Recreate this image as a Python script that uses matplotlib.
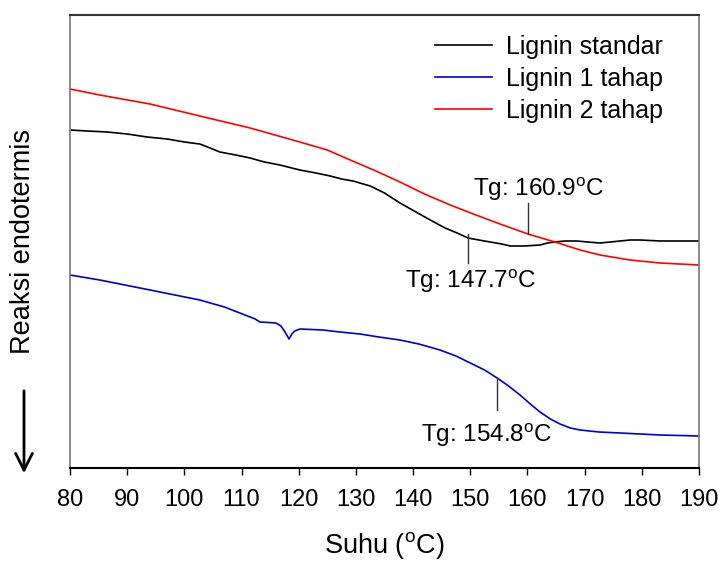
import matplotlib
matplotlib.use("Agg")
import matplotlib.pyplot as plt

plt.rcParams['font.family'] = ['Liberation Sans', 'DejaVu Sans']
plt.rcParams['mathtext.fontset'] = 'custom'
plt.rcParams['mathtext.rm'] = 'Liberation Sans'
plt.rcParams['mathtext.it'] = 'Liberation Sans:italic'

# Lignin standar (black)
t_std = [80.0, 83.0, 86.5, 90.0, 93.5, 97.0, 100.0, 102.7, 104.5, 106.2, 109.0, 111.5, 114.0,
         116.7, 120.2, 123.0, 125.5, 127.5, 129.5, 132.5, 135.0, 137.7, 140.5, 143.0, 145.6,
         147.7, 149.6, 151.5, 153.5, 155.5, 157.0, 159.5, 162.2, 163.5, 164.8, 166.5, 168.7,
         170.5, 172.7, 174.5, 176.2, 178.0, 179.7, 183.2, 186.5, 190.0]
y_std = [338, 337, 336, 334, 331, 329, 326, 324, 320, 316, 313, 310, 306,
         303, 298, 295, 292, 289, 287, 282, 275, 265, 256, 248, 240,
         235, 230, 228, 226, 224, 222, 222, 223, 225, 226, 227, 227,
         226, 225, 226, 227, 228, 228, 227, 227, 227]

# Lignin 1 tahap (blue)
t_1 = [80.0, 85.2, 94.0, 102.7, 107.0, 109.7, 112.4, 113.2, 116.0, 116.9, 117.6, 118.3, 118.8,
       119.3, 120.2, 124.2, 127.2, 130.7, 134.0, 137.7, 141.0, 144.7, 147.5, 150.0, 152.5,
       154.7, 156.7, 158.7, 160.5, 162.2, 164.0, 165.7, 167.5, 169.2, 172.5, 176.2, 183.2, 190.0]
y_1 = [193, 188, 178, 168, 161, 155, 149, 146, 145, 142, 136, 129, 134,
       137, 139, 138, 136, 134, 131, 128, 124, 118, 112, 105, 98,
       90, 82, 73, 64, 56, 49, 44, 40, 38, 36, 35, 33, 32]

# Lignin 2 tahap (red)
t_2 = [80.0, 85.2, 94.0, 102.7, 111.5, 120.2, 125.0, 129.0, 133.5, 137.7, 142.0, 146.5, 151.0,
       155.2, 160.1, 164.8, 169.2, 172.7, 177.9, 183.2, 190.0]
y_2 = [379, 373, 364, 352, 340, 326, 318, 308, 297, 286, 274, 263, 253,
       244, 234, 226, 218, 213, 208, 205, 203]

series_labels = ["Lignin standar", "Lignin 1 tahap", "Lignin 2 tahap"]
series_colors = ["black", "#0000cc", "red"]

xticks = [80, 90, 100, 110, 120, 130, 140, 150, 160, 170, 180, 190]

# Tg annotations
tg_text = ["Tg: 147.7$^{\\mathrm{o}}$C", "Tg: 160.9$^{\\mathrm{o}}$C", "Tg: 154.8$^{\\mathrm{o}}$C"]
tg_x = [149.6, 160.1, 154.7]
tg_y0 = [234, 265, 90]
tg_y1 = [205, 234, 58]
tg_tx = [150.0, 162.0, 152.8]
tg_ty = [187, 279, 33]

fig = plt.figure(figsize=(7.21, 5.63), dpi=100)
ax = fig.add_axes([70/721, 1-468/563, 629/721, 453/563])

for t, y, lab, c in zip([t_std, t_1, t_2], [y_std, y_1, y_2], series_labels, series_colors):
    ax.plot(t, y, color=c, lw=1.2, label=lab)

for txt, lx, y0, y1, tx, ty in zip(tg_text, tg_x, tg_y0, tg_y1, tg_tx, tg_ty):
    ax.plot([lx, lx], [y0, y1], color='#333333', lw=1)
    ax.text(tx, ty, txt, fontsize=17.5, ha='center', va='center')

ax.set_xlim(80, 190)
ax.set_ylim(0, 453)
ax.set_xticks(xticks)
ax.set_yticks([])
ax.tick_params(axis='x', direction='out', length=5, width=1, labelsize=17, pad=10)
ax.spines['bottom'].set_color('black')
ax.spines['bottom'].set_linewidth(1.5)
for s in ['left', 'right']:
    ax.spines[s].set_color('#777777')
    ax.spines[s].set_linewidth(1.2)
ax.spines['top'].set_color('#333333')
ax.spines['top'].set_linewidth(1.5)

ax.set_xlabel("Suhu ($^{\\mathrm{o}}$C)", fontsize=19.5, labelpad=14)

leg = ax.legend(loc='upper left', bbox_to_anchor=(365/629, 1-20/453), frameon=False,
                fontsize=18, handlelength=2.3, handletextpad=0.56, labelspacing=0.32,
                borderaxespad=0, borderpad=0)

fig.text(23/721, 1-241/563, "Reaksi endotermis", rotation=90, fontsize=19.5,
         ha='center', va='center')
fig.add_artist(matplotlib.patches.FancyArrowPatch(
    (24/721, 1-388/563), (24/721, 1-476/563), transform=fig.transFigure,
    arrowstyle='->,head_length=8,head_width=4', lw=2, color='black', mutation_scale=1.5))

fig.savefig("out.png", dpi=100)
